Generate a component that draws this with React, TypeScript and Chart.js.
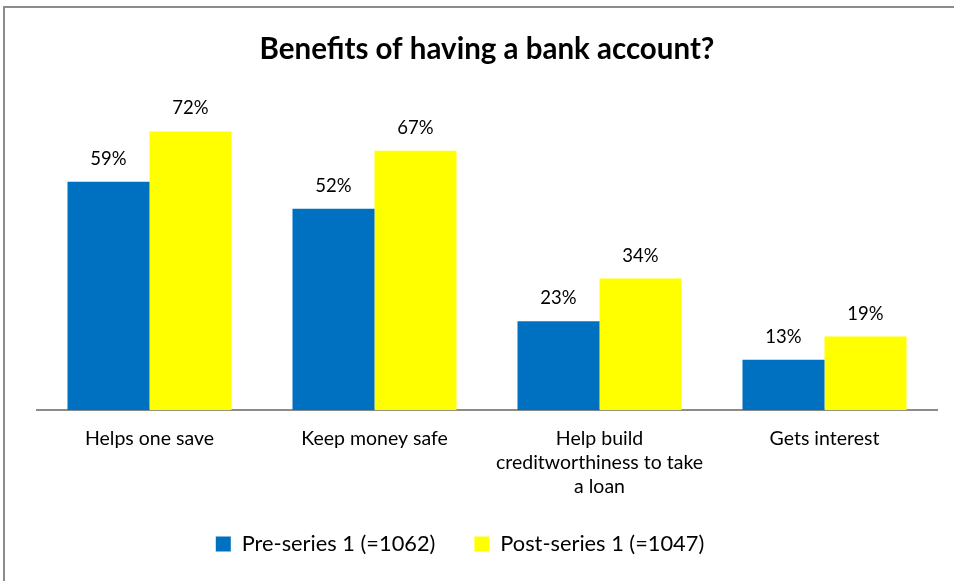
import React, { useEffect, useRef } from "react";
import { Chart, registerables } from "chart.js";

Chart.register(...registerables);

const categories: (string | string[])[] = [
  "Helps one save",
  "Keep money safe",
  ["Help build", "creditworthiness to take", "a loan"],
  "Gets interest",
];
const preSeries = [59, 52, 23, 13];
const postSeries = [72, 67, 34, 19];
const seriesNames = ["Pre-series 1 (=1062)", "Post-series 1 (=1047)"];
const titleText = "Benefits of having a bank account?";

const FONT = "Lato, 'Open Sans', sans-serif";

const dataLabels = {
  id: "dataLabels",
  afterDatasetsDraw(chart: any) {
    const ctx = chart.ctx;
    ctx.save();
    ctx.font = `18.5px ${FONT}`;
    ctx.fillStyle = "#000";
    ctx.textAlign = "center";
    ctx.textBaseline = "alphabetic";
    chart.data.datasets.forEach((ds: any, i: number) => {
      const meta = chart.getDatasetMeta(i);
      meta.data.forEach((el: any, j: number) => {
        ctx.fillText(`${ds.data[j]}%`, el.x, el.y - 17);
      });
    });
    ctx.restore();
  },
};

const legendShift = {
  id: "legendShift",
  afterLayout(chart: any) {
    if (chart.legend) {
      chart.legend.left -= 27;
      chart.legend.right -= 27;
    }
  },
};

export default function App() {
  const ref = useRef<HTMLCanvasElement>(null);
  useEffect(() => {
    if (!ref.current) return;
    const chart = new Chart(ref.current, {
      type: "bar",
      data: {
        labels: categories as any,
        datasets: [
          {
            label: seriesNames[0],
            data: preSeries,
            backgroundColor: "#0070C0",
            categoryPercentage: 0.729,
            barPercentage: 1,
          },
          {
            label: seriesNames[1],
            data: postSeries,
            backgroundColor: "#FFFF00",
            categoryPercentage: 0.729,
            barPercentage: 1,
          },
        ],
      },
      options: {
        animation: false,
        responsive: false,
        maintainAspectRatio: false,
        layout: { padding: { left: 37, right: 17, top: 0, bottom: 16 } },
        plugins: {
          title: {
            display: true,
            text: titleText,
            color: "#000",
            font: { family: FONT, size: 29.5, weight: "bold" },
            padding: { top: 32, bottom: 33 },
          },
          legend: {
            position: "bottom",
            labels: {
              color: "#000",
              font: { family: FONT, size: 21.8 },
              boxWidth: 15,
              boxHeight: 15,
              padding: 39,
            },
          },
          tooltip: { enabled: false },
        },
        scales: {
          x: {
            grid: { display: false, drawTicks: false },
            border: { display: true, color: "#8c8c8c", width: 2 },
            ticks: {
              color: "#000",
              font: { family: FONT, size: 19.5, lineHeight: 1.25 },
              padding: 16,
              maxRotation: 0,
              autoSkip: false,
            },
            afterFit(scale: any) {
              scale.height = 84;
            },
          },
          y: {
            display: false,
            min: 0,
            max: 80,
          },
        },
      },
      plugins: [dataLabels, legendShift],
    });
    return () => chart.destroy();
  }, []);
  return (
    <div style={{ position: "fixed", left: 0, top: 0, width: 954, height: 581, background: "#fff" }}>
      <canvas ref={ref} width={954} height={581} style={{ position: "absolute", left: 0, top: 0 }} />
      <div
        style={{
          position: "absolute",
          left: 3,
          top: 6,
          width: 960,
          height: 600,
          borderLeft: "2px solid #8c8c8c",
          borderTop: "2px solid #8c8c8c",
          pointerEvents: "none",
        }}
      />
    </div>
  );
}
